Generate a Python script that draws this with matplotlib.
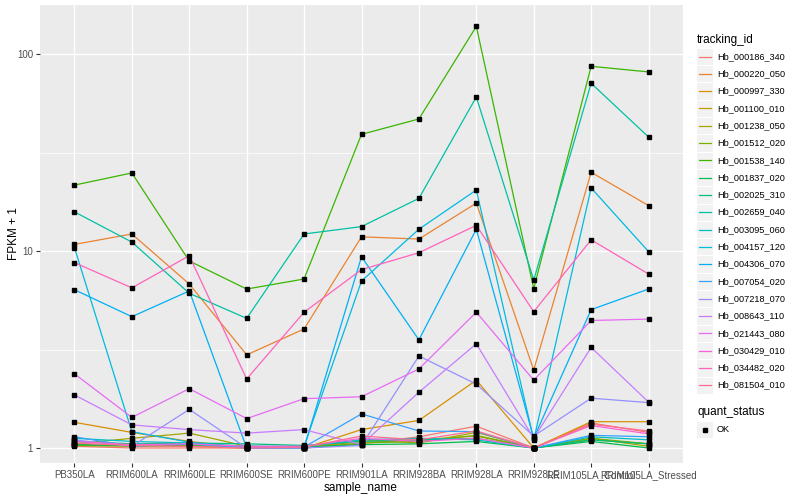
import matplotlib
matplotlib.use("Agg")
import matplotlib.pyplot as plt
import numpy as np
from matplotlib.patches import Rectangle
from matplotlib.lines import Line2D

plt.rcParams['font.family'] = ['Liberation Sans', 'DejaVu Sans']

samples = ["PB350LA", "RRIM600LA", "RRIM600LE", "RRIM600SE", "RRIM600PE", "RRIM901LA",
           "RRIM928BA", "RRIM928LA", "RRIM928LE", "RRIM105LA_Control", "RRIM105LA_Stressed"]

tracking_ids = ["Hb_000186_340", "Hb_000220_050", "Hb_000997_330", "Hb_001100_010",
                "Hb_001238_050", "Hb_001512_020", "Hb_001538_140", "Hb_001837_020",
                "Hb_002025_310", "Hb_002659_040", "Hb_003095_060", "Hb_004157_120",
                "Hb_004306_070", "Hb_007054_020", "Hb_007218_070", "Hb_008643_110",
                "Hb_021443_080", "Hb_030429_010", "Hb_034482_020", "Hb_081504_010"]

# FPKM + 1 values, one list per tracking_id (order of samples)
Hb_000186_340 = [1.02, 1.00, 1.00, 1.00, 1.00, 1.05, 1.14, 1.29, 1.00, 1.34, 1.20]
Hb_000220_050 = [10.8, 12.2, 6.8, 2.97, 4.02, 11.8, 11.5, 17.5, 2.49, 25.1, 17.0]
Hb_000997_330 = [1.35, 1.20, 1.08, 1.00, 1.00, 1.24, 1.38, 2.21, 1.00, 1.36, 1.36]
Hb_001100_010 = [1.04, 1.03, 1.02, 1.00, 1.00, 1.08, 1.10, 1.15, 1.00, 1.10, 1.05]
Hb_001238_050 = [1.05, 1.12, 1.19, 1.02, 1.00, 1.10, 1.06, 1.20, 1.00, 1.12, 1.02]
Hb_001512_020 = [1.03, 1.02, 1.03, 1.01, 1.00, 1.06, 1.08, 1.16, 1.00, 1.12, 1.05]
Hb_001538_140 = [21.6, 24.9, 8.9, 6.41, 7.21, 39.1, 46.8, 138.0, 6.44, 86.6, 81.1]
Hb_001837_020 = [1.04, 1.03, 1.04, 1.02, 1.01, 1.04, 1.05, 1.08, 1.00, 1.08, 1.00]
Hb_002025_310 = [1.08, 1.05, 1.06, 1.05, 1.03, 1.08, 1.10, 1.12, 1.00, 1.10, 1.05]
Hb_002659_040 = [15.8, 11.1, 6.1, 4.55, 12.2, 13.3, 18.5, 60.5, 7.13, 71.0, 37.9]
Hb_003095_060 = [1.12, 1.08, 1.06, 1.02, 1.02, 1.10, 1.12, 1.10, 1.00, 1.14, 1.10]
Hb_004157_120 = [10.4, 1.21, 1.07, 1.00, 1.02, 7.04, 12.9, 20.4, 1.10, 20.9, 9.93]
Hb_004306_070 = [6.36, 4.64, 6.27, 1.00, 1.00, 9.35, 3.54, 12.9, 1.12, 5.04, 6.41]
Hb_007054_020 = [1.14, 1.02, 1.05, 1.00, 1.01, 1.49, 1.22, 1.21, 1.00, 1.16, 1.14]
Hb_007218_070 = [1.10, 1.02, 1.57, 1.00, 1.00, 1.03, 2.93, 2.11, 1.15, 1.79, 1.70]
Hb_008643_110 = [1.86, 1.31, 1.24, 1.19, 1.24, 1.04, 1.92, 3.38, 1.12, 3.24, 1.71]
Hb_021443_080 = [2.38, 1.43, 2.00, 1.41, 1.78, 1.82, 2.52, 4.89, 2.21, 4.44, 4.51]
Hb_030429_010 = [1.08, 1.04, 1.05, 1.02, 1.02, 1.12, 1.08, 1.12, 1.00, 1.30, 1.18]
Hb_034482_020 = [8.73, 6.5, 9.46, 2.24, 4.89, 8.04, 9.8, 13.5, 4.92, 11.4, 7.64]
Hb_081504_010 = [1.06, 1.03, 1.02, 1.00, 1.01, 1.15, 1.10, 1.22, 1.00, 1.32, 1.22]

series = [Hb_000186_340, Hb_000220_050, Hb_000997_330, Hb_001100_010, Hb_001238_050,
          Hb_001512_020, Hb_001538_140, Hb_001837_020, Hb_002025_310, Hb_002659_040,
          Hb_003095_060, Hb_004157_120, Hb_004306_070, Hb_007054_020, Hb_007218_070,
          Hb_008643_110, Hb_021443_080, Hb_030429_010, Hb_034482_020, Hb_081504_010]

colors = ["#F8766D", "#EA8331", "#D89000", "#C09B00", "#A3A500", "#7CAE00", "#39B600",
          "#00BB4E", "#00BF7D", "#00C1A3", "#00BFC4", "#00BAE0", "#00B0F6", "#35A2FF",
          "#9590FF", "#C77CFF", "#E76BF3", "#FA62DB", "#FF62BC", "#FF6C91"]

W, H = 800, 500
fig = plt.figure(figsize=(W / 100, H / 100), dpi=100)

# panel in pixels
pl, pr, pt, pb = 40, 683, 5, 463
ax = fig.add_axes([pl / W, 1 - pb / H, (pr - pl) / W, (pb - pt) / H])
ax.set_facecolor("#EBEBEB")
for s in ax.spines.values():
    s.set_visible(False)

y1px, perdec = 448, 197.0
ax.set_yscale("log")
ax.set_ylim(10 ** ((y1px - pb) / perdec), 10 ** ((y1px - pt) / perdec))
ax.set_xlim(-0.6, len(samples) - 1 + 0.6)

x = np.arange(len(samples))
ax.set_xticks(x)
ax.set_xticklabels(samples)
ax.set_yticks([1, 10, 100])
ax.set_yticklabels(["1", "10", "100"])
ax.yaxis.set_minor_locator(matplotlib.ticker.FixedLocator([10 ** 0.5, 10 ** 1.5]))
ax.yaxis.set_minor_formatter(matplotlib.ticker.NullFormatter())
ax.tick_params(axis="y", which="minor", length=0)
ax.tick_params(axis="both", which="major", length=3, width=0.8, color="#333333",
               labelsize=7, labelcolor="#4D4D4D", pad=2)

ax.grid(True, which="major", color="white", linewidth=1.0)
ax.grid(True, which="minor", axis="y", color="white", linewidth=0.5)
ax.set_axisbelow(True)

for vals, c in zip(series, colors):
    ax.plot(x, vals, color=c, linewidth=0.9, zorder=3)
for vals in series:
    ax.plot(x, vals, linestyle="none", marker="s", markersize=2.2, color="black", zorder=4)

def px(xp, yp):
    return xp / W, 1 - yp / H

fig.text(*px(361, 488), "sample_name", fontsize=8.5, ha="center", va="center")
fig.text(*px(14, 234), "FPKM + 1", fontsize=8.5, ha="center", va="center", rotation=90)

# legend drawn manually (ggplot style keys)
fig.text(*px(697, 40), "tracking_id", fontsize=8.5, ha="left", va="center")
key_h = 17.3
y0 = 56.5
for i, (name, c) in enumerate(zip(tracking_ids, colors)):
    yc = y0 + i * key_h
    r = Rectangle(px(697, yc + key_h / 2), 16 / W, (key_h - 1) / H,
                  transform=fig.transFigure, facecolor="#F2F2F2", edgecolor="none")
    fig.patches.append(r)
    fig.lines.append(Line2D([699 / W, 711 / W], [1 - yc / H, 1 - yc / H],
                            transform=fig.transFigure, color=c, linewidth=0.9))
    fig.text(*px(717, yc), name, fontsize=6.6, ha="left", va="center")

fig.text(*px(697, 412), "quant_status", fontsize=8.5, ha="left", va="center")
yc = 429.5
fig.patches.append(Rectangle(px(697, yc + key_h / 2), 16 / W, (key_h - 1) / H,
                             transform=fig.transFigure, facecolor="#F2F2F2", edgecolor="none"))
fig.lines.append(Line2D([705 / W], [1 - yc / H], transform=fig.transFigure,
                        marker="s", markersize=2.2, color="black", linestyle="none"))
fig.text(*px(717, yc), "OK", fontsize=6.6, ha="left", va="center")

fig.savefig("out.png", dpi=100, facecolor="white")
